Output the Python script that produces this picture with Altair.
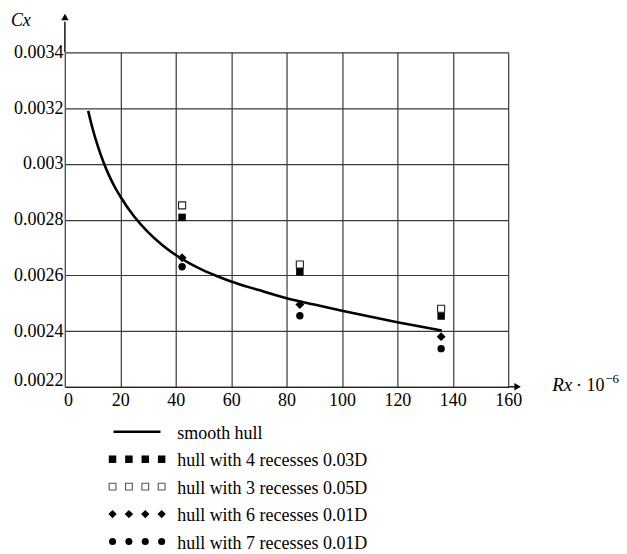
import altair as alt
import pandas as pd

FONT = "Liberation Serif"

# ---- data ----
x_ticks = [0, 20, 40, 60, 80, 100, 120, 140, 160]
y_ticks = [0.0022, 0.0024, 0.0026, 0.0028, 0.003, 0.0032, 0.0034]

curve_x = [8.4, 10, 12, 14, 16, 18, 20, 25, 30, 35, 40, 45, 50, 55, 60, 70, 80, 90, 100, 110, 120, 136]
curve_y = [0.003190, 0.003126, 0.003060, 0.003004, 0.002957, 0.002917, 0.002883, 0.002811,
           0.002755, 0.002710, 0.002673, 0.002643, 0.002618, 0.002597, 0.002578, 0.002547,
           0.002518, 0.002495, 0.002473, 0.002452, 0.002432, 0.002402]

pts_x = [42.3, 84.8, 135.8]
sq_filled = [0.002808, 0.002613, 0.002454]   # hull with 4 recesses 0.03D
sq_open = [0.002851, 0.002639, 0.00248]      # hull with 3 recesses 0.05D
diamonds = [0.002663, 0.002495, 0.00238]     # hull with 6 recesses 0.01D
circles = [0.002631, 0.002455, 0.002337]     # hull with 7 recesses 0.01D

legend_labels = ["smooth hull", "hull with 4 recesses 0.03D", "hull with 3 recesses 0.05D",
                 "hull with 6 recesses 0.01D", "hull with 7 recesses 0.01D"]
legend_slots = [0, 1, 2, 3]

# ---- scales / axes ----
xs = alt.Scale(domain=[0, 160], nice=False, zero=False)
ys = alt.Scale(domain=[0.0022, 0.0034], nice=False, zero=False)

x_axis = alt.Axis(values=x_ticks, grid=True, gridColor="#3a3a3a", gridWidth=1.2,
                  ticks=False, domain=True, domainColor="#222", domainWidth=1.2,
                  labelFont=FONT, labelFontSize=18, labelColor="black", labelPadding=5,
                  labelFlush=False, labelOverlap=False, title=None,
                  labelOffset={"condition": {"test": "datum.value == 0", "value": 3}, "value": 0})
y_axis = alt.Axis(values=y_ticks, format=".2~r", grid=True, gridColor="#3a3a3a", gridWidth=1.2,
                  ticks=False, domain=True, domainColor="#555", domainWidth=1.2,
                  labelFont=FONT, labelFontSize=18, labelColor="black", labelPadding=2,
                  labelFlush=False, labelOverlap=False, title=None,
                  labelOffset={"condition": {"test": "datum.value < 0.00221", "value": -6}, "value": 0})

curve_df = pd.DataFrame({"x": curve_x, "y": curve_y})
line = alt.Chart(curve_df).mark_line(color="black", strokeWidth=2.6, interpolate="monotone").encode(
    x=alt.X("x:Q", scale=xs, axis=x_axis),
    y=alt.Y("y:Q", scale=ys, axis=y_axis),
)

def pts(vals, shape, size, filled, stroke_w=0):
    df = pd.DataFrame({"x": pts_x, "y": vals})
    if filled:
        m = alt.Chart(df).mark_point(shape=shape, size=size, filled=True, color="black", opacity=1)
    else:
        m = alt.Chart(df).mark_point(shape=shape, size=size, filled=True, fill="white",
                                     stroke="#222", strokeWidth=stroke_w, opacity=1)
    return m.encode(x=alt.X("x:Q", scale=xs), y=alt.Y("y:Q", scale=ys))

p_fsq = pts(sq_filled, "square", 56, True)
p_osq = pts(sq_open, "square", 50, False, 1.1)
p_dia = pts(diamonds, "diamond", 80, True)
p_cir = pts(circles, "circle", 55, True)

# axis arrows
yarr = alt.Chart(pd.DataFrame({"x": [0], "y": [0.0034], "y2": [0.00351]})).mark_rule(
    color="black", strokeWidth=1.4).encode(x=alt.X("x:Q", scale=xs), y=alt.Y("y:Q", scale=ys), y2="y2:Q")
yhead = alt.Chart(pd.DataFrame({"x": [0], "y": [0.003527]})).mark_point(
    shape="triangle-up", size=55, filled=True, color="black", opacity=1).encode(
    x=alt.X("x:Q", scale=xs), y=alt.Y("y:Q", scale=ys))
xarr = alt.Chart(pd.DataFrame({"x": [160], "x2": [163], "y": [0.0022]})).mark_rule(
    color="black", strokeWidth=1.4).encode(x=alt.X("x:Q", scale=xs), x2="x2:Q", y=alt.Y("y:Q", scale=ys))
xhead = alt.Chart(pd.DataFrame({"x": [163.4], "y": [0.0022]})).mark_point(
    shape="triangle-right", size=55, filled=True, color="black", opacity=1).encode(
    x=alt.X("x:Q", scale=xs), y=alt.Y("y:Q", scale=ys))

# axis titles as text
def txt(x, y, s, size=18, style="normal", baseline="alphabetic"):
    return alt.Chart(pd.DataFrame({"x": [x], "y": [y], "t": [s]})).mark_text(
        font=FONT, fontSize=size, fontStyle=style, align="left", baseline=baseline, color="black").encode(
        x=alt.X("x:Q", scale=xs), y=alt.Y("y:Q", scale=ys), text="t:N")

t_cx = txt(-19.5, 0.003513, "Cx", 18, "italic", "middle")
t_rx = txt(175.9, 0.0021867, "Rx", 19, "italic")
t_10 = txt(184.5, 0.0021867, "· 10", 18)
t_exp = txt(195.0, 0.0022143, "−6", 13)

main = alt.layer(line, p_fsq, p_osq, p_dia, p_cir, yarr, yhead, xarr, xhead,
                 t_cx, t_rx, t_10, t_exp).properties(width=444, height=335)

# ---- legend panel ----
lx = alt.Scale(domain=[-2.91, 24.17], nice=False, zero=False)
ly = alt.Scale(domain=[0, 4], reverse=True, nice=False, zero=False)
lg_axis_x = alt.X("s:Q", scale=lx, axis=None)
lg_axis_y = alt.Y("r:Q", scale=ly, axis=None)

lg_line = alt.Chart(pd.DataFrame({"s": [0.06], "s2": [2.93], "r": [0]})).mark_rule(
    color="black", strokeWidth=2.6).encode(x=lg_axis_x, x2="s2:Q", y=lg_axis_y)

def lg_marks(row, shape, size, filled):
    df = pd.DataFrame({"s": legend_slots, "r": [row] * len(legend_slots)})
    if filled:
        m = alt.Chart(df).mark_point(shape=shape, size=size, filled=True, color="black", opacity=1)
    else:
        m = alt.Chart(df).mark_point(shape=shape, size=size, filled=True, fill="white",
                                     stroke="#555", strokeWidth=1.1, opacity=1)
    return m.encode(x=lg_axis_x, y=lg_axis_y)

lg_m1 = lg_marks(1, "square", 56, True)
lg_m2 = lg_marks(2, "square", 46, False)
lg_m3 = lg_marks(3, "diamond", 70, True)
lg_m4 = lg_marks(4, "circle", 50, True)

lg_text = alt.Chart(pd.DataFrame({"s": [3.95] * 5, "r": list(range(5)), "t": legend_labels})).mark_text(
    font=FONT, fontSize=18, align="left", baseline="middle", color="black", dy=2).encode(
    x=alt.X("s:Q", scale=lx, axis=None), y=alt.Y("r:Q", scale=ly, axis=None), text="t:N")

legend = alt.layer(lg_line, lg_m1, lg_m2, lg_m3, lg_m4, lg_text).properties(width=444, height=110)

chart = (
    alt.vconcat(main, legend, spacing=15)
    .properties(padding={"left": 2, "top": 3, "right": 0, "bottom": 0})
    .configure(background="white", font=FONT)
    .configure_view(strokeWidth=0, stroke=None)
    .configure_axis(labelFont=FONT, labelFontSize=18, labelColor="black")
)

chart.save("out.html", embed_options={"renderer": "svg", "actions": False})
